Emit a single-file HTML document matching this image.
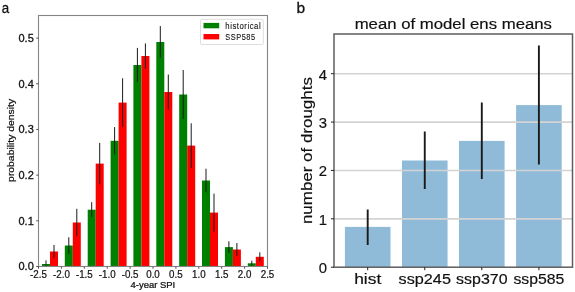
<!DOCTYPE html>
<html><head><meta charset="utf-8"><style>
html,body{margin:0;padding:0;background:#fff;width:575px;height:292px;overflow:hidden}
svg{display:block;transform:translateZ(0);font-family:"Liberation Sans", sans-serif}
</style></head><body>
<svg width="575" height="292" viewBox="0 0 575 292">
<defs><clipPath id="cl"><rect x="38.5" y="15.5" width="229" height="251"/></clipPath><clipPath id="cr"><rect x="334" y="34" width="238.5" height="233.2"/></clipPath></defs>
<g clip-path="url(#cl)">
<rect x="42" y="264" width="8" height="2.5" fill="#008000"/>
<rect x="50" y="251.5" width="8" height="15" fill="#ff0000"/>
<rect x="64.8" y="245.5" width="8" height="21" fill="#008000"/>
<rect x="72.8" y="222.5" width="8" height="44" fill="#ff0000"/>
<rect x="87.7" y="209.7" width="8" height="56.8" fill="#008000"/>
<rect x="95.7" y="163.6" width="8" height="102.9" fill="#ff0000"/>
<rect x="110.6" y="140.8" width="8" height="125.7" fill="#008000"/>
<rect x="118.6" y="102.6" width="8" height="163.9" fill="#ff0000"/>
<rect x="133.4" y="65" width="8" height="201.5" fill="#008000"/>
<rect x="141.4" y="56" width="8" height="210.5" fill="#ff0000"/>
<rect x="156.3" y="42" width="8" height="224.5" fill="#008000"/>
<rect x="164.3" y="92" width="8" height="174.5" fill="#ff0000"/>
<rect x="179.2" y="94.5" width="8" height="172" fill="#008000"/>
<rect x="187.2" y="145.6" width="8" height="120.9" fill="#ff0000"/>
<rect x="202" y="180.5" width="8" height="86" fill="#008000"/>
<rect x="210" y="212.6" width="8" height="53.9" fill="#ff0000"/>
<rect x="224.9" y="247.1" width="8" height="19.4" fill="#008000"/>
<rect x="232.9" y="249.5" width="8" height="17" fill="#ff0000"/>
<rect x="247.8" y="263.3" width="8" height="3.2" fill="#008000"/>
<rect x="255.8" y="256.8" width="8" height="9.7" fill="#ff0000"/>
<line x1="46" y1="260.4" x2="46" y2="267.6" stroke="#1a1a1a" stroke-width="1"/>
<line x1="54" y1="245" x2="54" y2="258" stroke="#1a1a1a" stroke-width="1"/>
<line x1="68.8" y1="237.25" x2="68.8" y2="253.75" stroke="#1a1a1a" stroke-width="1"/>
<line x1="76.8" y1="208.8" x2="76.8" y2="236.2" stroke="#1a1a1a" stroke-width="1"/>
<line x1="91.7" y1="202.2" x2="91.7" y2="217.2" stroke="#1a1a1a" stroke-width="1"/>
<line x1="99.7" y1="142.9" x2="99.7" y2="184.3" stroke="#1a1a1a" stroke-width="1"/>
<line x1="114.6" y1="127.1" x2="114.6" y2="154.5" stroke="#1a1a1a" stroke-width="1"/>
<line x1="122.6" y1="78.3" x2="122.6" y2="126.9" stroke="#1a1a1a" stroke-width="1"/>
<line x1="137.4" y1="47.9" x2="137.4" y2="82.1" stroke="#1a1a1a" stroke-width="1"/>
<line x1="145.4" y1="43.4" x2="145.4" y2="68.6" stroke="#1a1a1a" stroke-width="1"/>
<line x1="160.3" y1="26.1" x2="160.3" y2="57.9" stroke="#1a1a1a" stroke-width="1"/>
<line x1="168.3" y1="74.5" x2="168.3" y2="109.5" stroke="#1a1a1a" stroke-width="1"/>
<line x1="183.2" y1="70" x2="183.2" y2="119" stroke="#1a1a1a" stroke-width="1"/>
<line x1="191.2" y1="123.3" x2="191.2" y2="167.9" stroke="#1a1a1a" stroke-width="1"/>
<line x1="206" y1="168.7" x2="206" y2="192.3" stroke="#1a1a1a" stroke-width="1"/>
<line x1="214" y1="193.6" x2="214" y2="231.6" stroke="#1a1a1a" stroke-width="1"/>
<line x1="228.9" y1="241.3" x2="228.9" y2="252.9" stroke="#1a1a1a" stroke-width="1"/>
<line x1="236.9" y1="243" x2="236.9" y2="256" stroke="#1a1a1a" stroke-width="1"/>
<line x1="251.8" y1="260.7" x2="251.8" y2="265.9" stroke="#1a1a1a" stroke-width="1"/>
<line x1="259.8" y1="252.3" x2="259.8" y2="261.3" stroke="#1a1a1a" stroke-width="1"/>
</g>
<rect x="38.5" y="15.5" width="229" height="251" fill="none" stroke="#858585" stroke-width="1.1"/>
<line x1="38.5" y1="266.5" x2="38.5" y2="268.8" stroke="#444" stroke-width="0.9"/>
<text transform="translate(38.5,277.7) scale(0.95,1)" font-size="10.3" text-anchor="middle" fill="#111" stroke="#111" stroke-width="0.22">-2.5</text>
<line x1="61.4" y1="266.5" x2="61.4" y2="268.8" stroke="#444" stroke-width="0.9"/>
<text transform="translate(61.4,277.7) scale(0.95,1)" font-size="10.3" text-anchor="middle" fill="#111" stroke="#111" stroke-width="0.22">-2.0</text>
<line x1="84.3" y1="266.5" x2="84.3" y2="268.8" stroke="#444" stroke-width="0.9"/>
<text transform="translate(84.3,277.7) scale(0.95,1)" font-size="10.3" text-anchor="middle" fill="#111" stroke="#111" stroke-width="0.22">-1.5</text>
<line x1="107.2" y1="266.5" x2="107.2" y2="268.8" stroke="#444" stroke-width="0.9"/>
<text transform="translate(107.2,277.7) scale(0.95,1)" font-size="10.3" text-anchor="middle" fill="#111" stroke="#111" stroke-width="0.22">-1.0</text>
<line x1="130.1" y1="266.5" x2="130.1" y2="268.8" stroke="#444" stroke-width="0.9"/>
<text transform="translate(130.1,277.7) scale(0.95,1)" font-size="10.3" text-anchor="middle" fill="#111" stroke="#111" stroke-width="0.22">-0.5</text>
<line x1="153" y1="266.5" x2="153" y2="268.8" stroke="#444" stroke-width="0.9"/>
<text transform="translate(153,277.7) scale(0.95,1)" font-size="10.3" text-anchor="middle" fill="#111" stroke="#111" stroke-width="0.22">0.0</text>
<line x1="175.9" y1="266.5" x2="175.9" y2="268.8" stroke="#444" stroke-width="0.9"/>
<text transform="translate(175.9,277.7) scale(0.95,1)" font-size="10.3" text-anchor="middle" fill="#111" stroke="#111" stroke-width="0.22">0.5</text>
<line x1="198.8" y1="266.5" x2="198.8" y2="268.8" stroke="#444" stroke-width="0.9"/>
<text transform="translate(198.8,277.7) scale(0.95,1)" font-size="10.3" text-anchor="middle" fill="#111" stroke="#111" stroke-width="0.22">1.0</text>
<line x1="221.7" y1="266.5" x2="221.7" y2="268.8" stroke="#444" stroke-width="0.9"/>
<text transform="translate(221.7,277.7) scale(0.95,1)" font-size="10.3" text-anchor="middle" fill="#111" stroke="#111" stroke-width="0.22">1.5</text>
<line x1="244.6" y1="266.5" x2="244.6" y2="268.8" stroke="#444" stroke-width="0.9"/>
<text transform="translate(244.6,277.7) scale(0.95,1)" font-size="10.3" text-anchor="middle" fill="#111" stroke="#111" stroke-width="0.22">2.0</text>
<line x1="267.5" y1="266.5" x2="267.5" y2="268.8" stroke="#444" stroke-width="0.9"/>
<text transform="translate(267.5,277.7) scale(0.95,1)" font-size="10.3" text-anchor="middle" fill="#111" stroke="#111" stroke-width="0.22">2.5</text>
<line x1="36.2" y1="266.5" x2="38.5" y2="266.5" stroke="#444" stroke-width="0.9"/>
<text transform="translate(33.8,270.394)" font-size="11" text-anchor="end" fill="#111" stroke="#111" stroke-width="0.3">0.0</text>
<line x1="36.2" y1="220.82" x2="38.5" y2="220.82" stroke="#444" stroke-width="0.9"/>
<text transform="translate(33.8,224.714)" font-size="11" text-anchor="end" fill="#111" stroke="#111" stroke-width="0.3">0.1</text>
<line x1="36.2" y1="175.14" x2="38.5" y2="175.14" stroke="#444" stroke-width="0.9"/>
<text transform="translate(33.8,179.034)" font-size="11" text-anchor="end" fill="#111" stroke="#111" stroke-width="0.3">0.2</text>
<line x1="36.2" y1="129.46" x2="38.5" y2="129.46" stroke="#444" stroke-width="0.9"/>
<text transform="translate(33.8,133.354)" font-size="11" text-anchor="end" fill="#111" stroke="#111" stroke-width="0.3">0.3</text>
<line x1="36.2" y1="83.78" x2="38.5" y2="83.78" stroke="#444" stroke-width="0.9"/>
<text transform="translate(33.8,87.674)" font-size="11" text-anchor="end" fill="#111" stroke="#111" stroke-width="0.3">0.4</text>
<line x1="36.2" y1="38.1" x2="38.5" y2="38.1" stroke="#444" stroke-width="0.9"/>
<text transform="translate(33.8,41.994)" font-size="11" text-anchor="end" fill="#111" stroke="#111" stroke-width="0.3">0.5</text>
<text transform="translate(152.9,287.8) scale(1.1,1)" font-size="8.6" text-anchor="middle" fill="#111" stroke="#111" stroke-width="0.25">4-year SPI</text>
<text transform="translate(14.2,140.4) rotate(-90) scale(1.18,1)" font-size="8.8" text-anchor="middle" fill="#111" stroke="#111" stroke-width="0.22">probability density</text>
<rect x="200.5" y="19.3" width="62.8" height="25.2" rx="1.5" fill="#fff" fill-opacity="0.8" stroke="#d5d5d5" stroke-width="0.8"/>
<rect x="203.5" y="22.9" width="15.7" height="5.4" fill="#008000"/>
<rect x="203.5" y="34" width="15.7" height="5.4" fill="#ff0000"/>
<text transform="translate(225.3,28.6) scale(0.9,1)" font-size="8.6" fill="#111" stroke="#111" stroke-width="0.1" letter-spacing="0.6">historical</text>
<text transform="translate(225.3,39.8) scale(0.86,1)" font-size="8.6" fill="#111" stroke="#111" stroke-width="0.1" letter-spacing="0.6">SSP585</text>
<text transform="translate(1.8,13) scale(0.86,1)" font-size="15.5" fill="#111" stroke="#111" stroke-width="0.3">a</text>
<g clip-path="url(#cr)">
<rect x="344.9" y="226.9" width="45.6" height="40.3" fill="#8fbbd9"/>
<rect x="401.96" y="160.5" width="45.6" height="106.7" fill="#8fbbd9"/>
<rect x="459" y="140.9" width="45.6" height="126.3" fill="#8fbbd9"/>
<rect x="516.1" y="105.1" width="45.6" height="162.1" fill="#8fbbd9"/>
<line x1="334.0" y1="218.825" x2="572.5" y2="218.825" stroke="#d3d3d3" stroke-width="1.6"/>
<line x1="334.0" y1="170.45" x2="572.5" y2="170.45" stroke="#d3d3d3" stroke-width="1.6"/>
<line x1="334.0" y1="122.075" x2="572.5" y2="122.075" stroke="#d3d3d3" stroke-width="1.6"/>
<line x1="334.0" y1="73.7" x2="572.5" y2="73.7" stroke="#d3d3d3" stroke-width="1.6"/>
<line x1="367.7" y1="209.4" x2="367.7" y2="244.9" stroke="#1a1a1a" stroke-width="1.9"/>
<line x1="424.76" y1="131.5" x2="424.76" y2="189" stroke="#1a1a1a" stroke-width="1.9"/>
<line x1="481.8" y1="102.4" x2="481.8" y2="179" stroke="#1a1a1a" stroke-width="1.9"/>
<line x1="538.9" y1="45.4" x2="538.9" y2="164.4" stroke="#1a1a1a" stroke-width="1.9"/>
</g>
<rect x="334.0" y="34.0" width="238.5" height="233.2" fill="none" stroke="#5e5e5e" stroke-width="1.5"/>
<line x1="331" y1="267.2" x2="334.0" y2="267.2" stroke="#222" stroke-width="1"/>
<text transform="translate(327,273.181) scale(0.98,1)" font-size="15.2" text-anchor="end" fill="#111" stroke="#111" stroke-width="0.18">0</text>
<line x1="331" y1="218.825" x2="334.0" y2="218.825" stroke="#222" stroke-width="1"/>
<text transform="translate(327,224.806) scale(0.98,1)" font-size="15.2" text-anchor="end" fill="#111" stroke="#111" stroke-width="0.18">1</text>
<line x1="331" y1="170.45" x2="334.0" y2="170.45" stroke="#222" stroke-width="1"/>
<text transform="translate(327,176.431) scale(0.98,1)" font-size="15.2" text-anchor="end" fill="#111" stroke="#111" stroke-width="0.18">2</text>
<line x1="331" y1="122.075" x2="334.0" y2="122.075" stroke="#222" stroke-width="1"/>
<text transform="translate(327,128.056) scale(0.98,1)" font-size="15.2" text-anchor="end" fill="#111" stroke="#111" stroke-width="0.18">3</text>
<line x1="331" y1="73.7" x2="334.0" y2="73.7" stroke="#222" stroke-width="1"/>
<text transform="translate(327,79.681) scale(0.98,1)" font-size="15.2" text-anchor="end" fill="#111" stroke="#111" stroke-width="0.18">4</text>
<line x1="367.7" y1="267.2" x2="367.7" y2="270.2" stroke="#222" stroke-width="1"/>
<text transform="translate(367.7,284.3) scale(1.2,1)" font-size="14.5" text-anchor="middle" fill="#111" stroke="#111" stroke-width="0.18">hist</text>
<line x1="424.76" y1="267.2" x2="424.76" y2="270.2" stroke="#222" stroke-width="1"/>
<text transform="translate(424.76,284.3) scale(1.12,1)" font-size="14.5" text-anchor="middle" fill="#111" stroke="#111" stroke-width="0.18">ssp245</text>
<line x1="481.8" y1="267.2" x2="481.8" y2="270.2" stroke="#222" stroke-width="1"/>
<text transform="translate(481.8,284.3) scale(1.1,1)" font-size="14.5" text-anchor="middle" fill="#111" stroke="#111" stroke-width="0.18">ssp370</text>
<line x1="538.9" y1="267.2" x2="538.9" y2="270.2" stroke="#222" stroke-width="1"/>
<text transform="translate(538.9,284.3) scale(1.09,1)" font-size="14.5" text-anchor="middle" fill="#111" stroke="#111" stroke-width="0.18">ssp585</text>
<text transform="translate(453.3,28.8) scale(1.155,1)" font-size="14.5" text-anchor="middle" fill="#111" stroke="#111" stroke-width="0.18">mean of model ens means</text>
<text transform="translate(312.2,150.6) rotate(-90) scale(1.17,1)" font-size="14.5" text-anchor="middle" fill="#111" stroke="#111" stroke-width="0.18">number of droughts</text>
<text transform="translate(296.6,13.3)" font-size="15.5" fill="#111" stroke="#111" stroke-width="0.3">b</text>
</svg>
</body></html>
